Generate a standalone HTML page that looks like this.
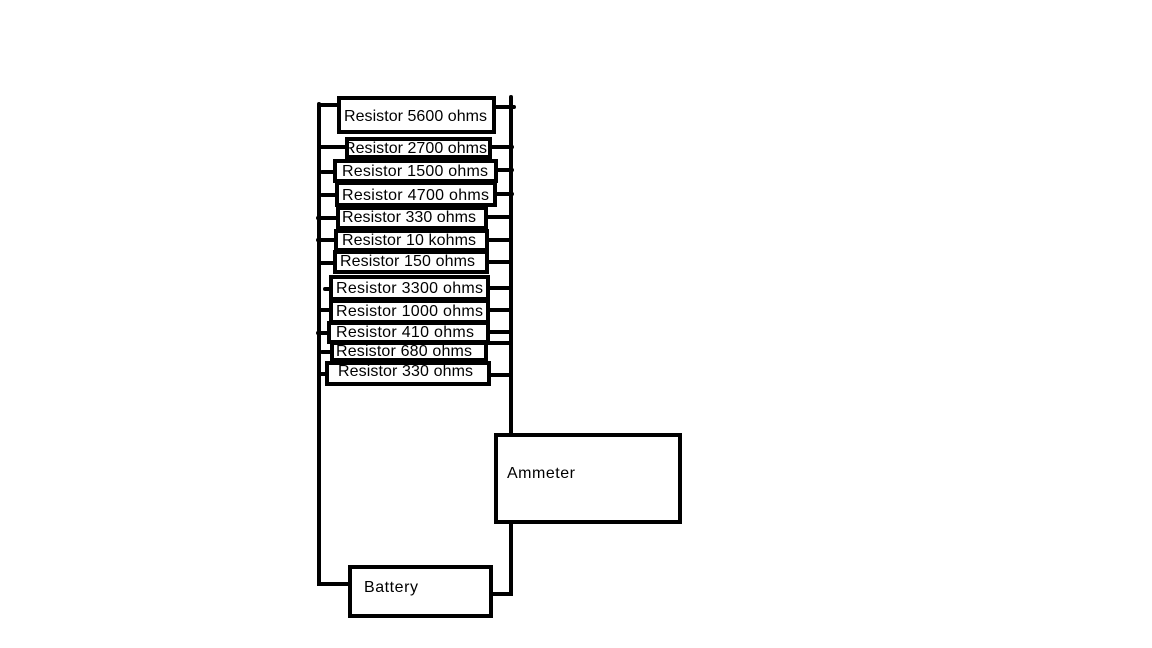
<!DOCTYPE html>
<html><head><meta charset="utf-8"><style>
html,body{margin:0;padding:0;background:#fff;}
svg{display:block}
text{font-family:"Liberation Sans",sans-serif;font-size:16px;fill:#000}
</style></head><body>
<svg width="1152" height="648" viewBox="0 0 1152 648" xmlns="http://www.w3.org/2000/svg">
<g stroke="#000" stroke-width="4" fill="none" stroke-linecap="round">
<path d="M319 104 V584 H349"/>
<path d="M511 97 V434"/>
<path d="M511 522 V594 H492"/>
<path d="M319 105 H338 M494 107 H514"/>
<path d="M319 147 H346 M490 147 H512"/>
<path d="M322 172 H334 M496 170 H512"/>
<path d="M322 195 H336 M495 194 H512"/>
<path d="M318 218 H337 M486 217 H511"/>
<path d="M318 240 H335 M487 240 H511"/>
<path d="M320 263 H334 M487 262 H511"/>
<path d="M325 289 H330 M488 288 H511"/>
<path d="M320 310 H330 M488 310 H511"/>
<path d="M318 333 H328 M488 332 H511"/>
<path d="M322 352 H331 M486 343 H511"/>
<path d="M320 374 H326 M489 375 H511"/>
</g>
<g stroke="#000" stroke-width="4" fill="#fff">
<rect x="339" y="98" width="155" height="34"/>
<rect x="347" y="139" width="143" height="18"/>
<rect x="335" y="161" width="161" height="20"/>
<rect x="337" y="183" width="158" height="22"/>
<rect x="338" y="208" width="148" height="20"/>
<rect x="336" y="231" width="151" height="19"/>
<rect x="335" y="252" width="152" height="20"/>
<rect x="331" y="277" width="157" height="22"/>
<rect x="331" y="301" width="157" height="21"/>
<rect x="329" y="323" width="159" height="19"/>
<rect x="332" y="343" width="154" height="17"/>
<rect x="327" y="363" width="162" height="21"/>
<rect x="496" y="435" width="184" height="87"/>
<rect x="350" y="567" width="141" height="49"/>
</g>
<text x="344" y="121" textLength="143">Resistor 5600 ohms</text>
<text x="344" y="153" textLength="143">Resistor 2700 ohms</text>
<text x="342" y="176" textLength="146">Resistor  1500 ohms</text>
<text x="342" y="200" textLength="147">Resistor  4700 ohms</text>
<text x="342" y="222" textLength="134">Resistor 330 ohms</text>
<text x="342" y="245" textLength="134">Resistor 10 kohms</text>
<text x="340" y="266" textLength="135">Resistor 150 ohms</text>
<text x="336" y="293" textLength="147">Resistor  3300 ohms</text>
<text x="336" y="316" textLength="147">Resistor  1000 ohms</text>
<text x="336" y="337" textLength="138">Resistor  410 ohms</text>
<text x="336" y="356" textLength="136">Resistor  680 ohms</text>
<text x="338" y="376" textLength="135">Resistor  330 ohms</text>
<text x="507" y="478" textLength="68">Ammeter</text>
<text x="364" y="592" textLength="54">Battery</text>
</svg>
</body></html>
